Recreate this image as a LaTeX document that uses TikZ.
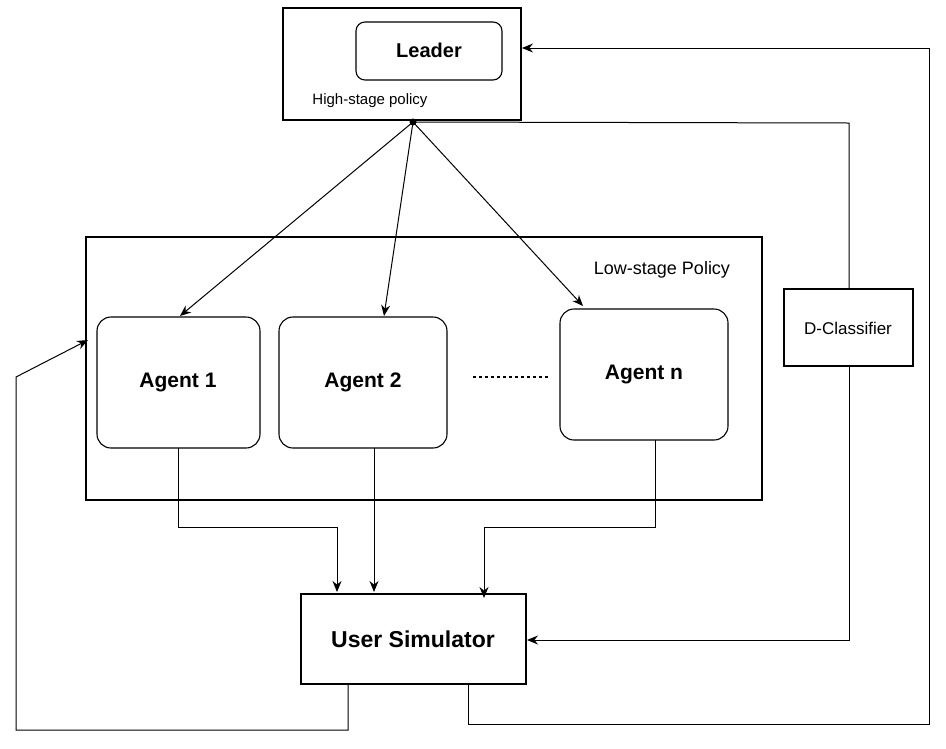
\documentclass[tikz,border=0pt]{standalone}
\usepackage{fontspec}
\setmainfont{Liberation Sans}
\usetikzlibrary{arrows.meta}
\begin{document}
\begin{tikzpicture}[x=1pt,y=-1pt,
  box/.style={draw,line width=1.3pt},
  rbox/.style={draw,line width=1.1pt,rounded corners=14pt},
  arr/.style={-{Stealth[length=11pt,width=9pt]},line width=1pt},
  ln/.style={line width=1pt}]
\useasboundingbox (0,0) rectangle (946,748);
\draw[box] (283,8) rectangle (521,120);
\draw[rbox,rounded corners=9pt] (356,22) rectangle (502,80);
\node[font=\bfseries\fontsize{20}{24}\selectfont] (leader) at (429,50) {Leader};
\node[font=\fontsize{15}{18}\selectfont] (hs) at (370,101) {High-stage policy};
\coordinate (dot) at (413,122);
\fill (dot) circle (3.5);
\draw[box] (86,237) rectangle (762,500);
\node[font=\fontsize{18}{22}\selectfont] (ls) at (662,270) {Low-stage Policy};
\draw[rbox] (97,317) rectangle (260,448);
\node[font=\bfseries\fontsize{21}{25}\selectfont] (a1) at (178,382) {Agent 1};
\draw[rbox] (279,317) rectangle (447,448);
\node[font=\bfseries\fontsize{21}{25}\selectfont] (a2) at (363,382) {Agent 2};
\draw[rbox] (560,309) rectangle (728,440);
\node[font=\bfseries\fontsize{21}{25}\selectfont] (an) at (644,374) {Agent n};
\draw[dash pattern=on 3pt off 3pt,line width=1.3pt] (473,377) -- (548,377);
\draw[box] (784,289) rectangle (913,366);
\node[font=\fontsize{17}{20}\selectfont] (dc) at (848,328) {D-Classifier};
\draw[box] (301,594) rectangle (526,684);
\node[font=\bfseries\fontsize{23}{27}\selectfont] (us) at (413,639) {User Simulator};
\draw[arr] (dot) -- (180,316);
\draw[arr] (dot) -- (384,316);
\draw[arr] (dot) -- (583,306);
\draw[ln] (dot) -- (849,123) -- (849,289);
\draw[arr] (849,366) -- (849,640) -- (527,640);
\draw[arr] (468,684) -- (468,724) -- (929,724) -- (929,48) -- (522,48);
\draw[arr] (348,684) -- (348,730) -- (16,730) -- (16,377) -- (88,340);
\draw[arr] (178,448) -- (178,527) -- (337,527) -- (337,592);
\draw[arr] (374,448) -- (374,592);
\draw[arr] (655,440) -- (655,527) -- (484,527) -- (484,598);
\end{tikzpicture}
\end{document}
